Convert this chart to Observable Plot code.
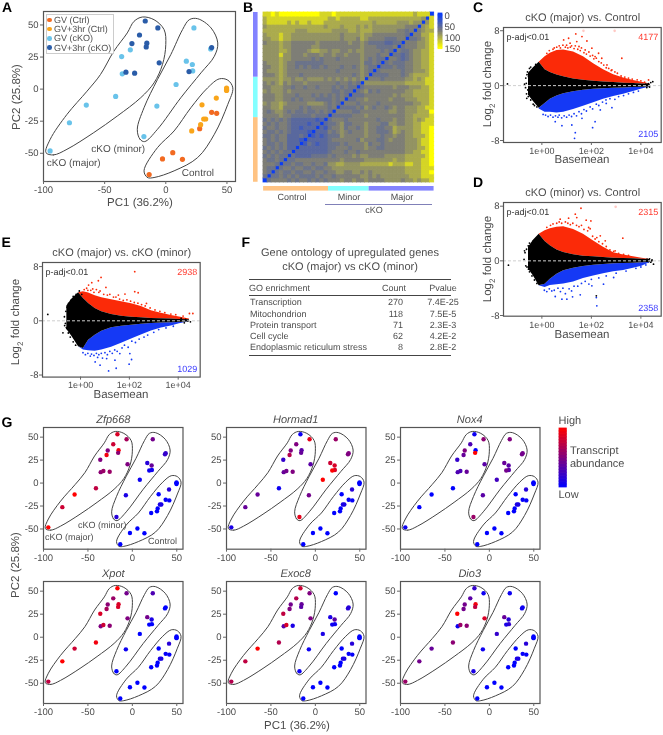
<!DOCTYPE html>
<html><head><meta charset="utf-8">
<script src="https://cdn.jsdelivr.net/npm/d3@7"></script>
<script src="https://cdn.jsdelivr.net/npm/@observablehq/plot@0.6"></script>
<style>
html,body{margin:0;padding:0;background:#fff}
#page{position:relative;width:663px;height:735px;overflow:hidden;font-family:"Liberation Sans",Arial,sans-serif;color:#4d4d4d;text-rendering:geometricPrecision;filter:blur(0.3px)}
#page svg{background:transparent;overflow:visible;text-rendering:geometricPrecision}
.t{position:absolute;white-space:nowrap;line-height:1}
sub{font-size:70%;line-height:0}
</style></head><body><div id="page"></div>
<script>
// ---------- PCA samples (panel A and G) ----------
const pc1=[-13.6,-2.7,5.7,13.6,27.7,37.5,41.6, 21.2,28.5,31,32.6,29.6,41.3,49.7,49.7,49.7,
 -94.6,-78.8,-65,-41,-35.6,-36.1,-29,23,16.8,21.7,22,8.4,-7.3,-17.9,36.7,
 -16.8,-6.5,-21.5,-27.7,-15.5,-16,-5.4,-32.6,-25.5,19,37.5];
const pc2=[-66.6,-54.4,-49.5,-54.7,-30.8,-18.1,-18.9, -32.6,-27.7,-23.3,-23.3,-12.2,-7,-1,0.8,-0.3,
 -48.2,-26.2,-12.4,-5.7,11.9,25.4,30.6,47.7,21.8,19.2,14.2,3.6,-13.2,-37,31.3,
 53.1,47.7,42.2,35.5,35.8,32.9,20.5,13.2,12.4,13.7,32.4];
const sampleGroupNames=["GV (Ctrl)","GV+3hr (Ctrl)","GV (cKO)","GV+3hr (cKO)"];
const sampleGroupSizes=[7,9,15,11];
const sampleGroupColors=["#f26a21","#f9a51a","#69c3ea","#2a5ca8"];
const ctrlLevels=[0,0,0,0,0,.02,.02, 0,0,.1,.1,0,.15,0,0,0];
const geneNames=["Zfp668","Hormad1","Nox4","Xpot","Exoc8","Dio3"];
const exprZfp668=[1,.8,1,.75,.55,.5,.95,.45,.15,.4,.05,.05,.1,.15,.2, .85,.65,.8,.5,.95,.55,.5,.6,.6,.05,.2];
const exprHormad1=[.1,.4,.4,.05,.4,.2,.7,.6,.8,.85,.85,1,.45,.9,.5, .05,.9,.5,.5,.35,.4,.35,.45,.5,1,.5];
const exprNox4=[.05,0,0,0,.3,.2,.4,.5,.4,.35,.35,.25,.35,.6,.45, .05,.55,.3,.5,0,1,.35,.3,.4,.45,.45];
const exprXpot=[.75,1,.8,.95,.5,.85,.65,.3,.45,.1,0,0,.05,0,0, 1,.45,.6,.55,.85,.85,.5,.8,.55,0,0];
const exprExoc8=[.7,.75,1,.7,.35,.75,.5,0,.1,.35,.05,.1,.05,.05,.15, .8,.5,.7,.45,.4,.35,.5,.85,.1,.05,.15];
const exprDio3=[.6,.45,.4,.55,.05,1,.45,.05,.4,.15,.2,.2,.05,.1,.05, .2,.05,.35,.45,.95,.75,.85,.6,.55,.1,.05];
const geneExpr=[exprZfp668,exprHormad1,exprNox4,exprXpot,exprExoc8,exprDio3];
// hull outlines
const hullMajor=[[-98,-49.5],[-91.8,-51.3],[-80.8,-46.9],[-58.9,-33.9],[-39.7,-21],[-20.5,-6.7],[-9.6,4.9],[-2.7,19.2],[0,34.7],[-1.4,46.4],[-9.6,54.1],[-19.2,56.2],[-26,52.8],[-31.5,43.8],[-42.5,29.5],[-53.4,11.4],[-64.4,-1.6],[-80.8,-19.7],[-94.5,-39.1]];
const hullMinor=[[-23.3,-31.3],[-21.1,-39.1],[-17.3,-40.9],[-6.8,-31.3],[12.3,-6.7],[28.8,12.7],[39.7,25.6],[42.5,36],[37,47.7],[26,54.9],[19.2,54.1],[13.7,46.4],[4.1,26.9],[-6.8,7.5],[-17.8,-14.5]];
const hullControl=[[-17.8,-63.7],[-15,-68.9],[-9.6,-68.9],[6.8,-63.7],[26,-53.4],[39.7,-35.2],[50.7,-11.9],[54.8,1],[50.7,7],[43.8,8],[34.2,1],[20.5,-14.5],[6.8,-32.6],[-6.8,-45.6]];
const hullLabels=["cKO (minor)","cKO (major)","Control"];
const hullLabelX=[-38.9,-75.3,26.3];
const hullLabelY=[-46.6,-57.8,-65];
const hullLabelXG=[-34,-71,34];
const hullLabelYG=[-46,-58.7,-63];

// ---------- Panel B distance matrix (lower triangle, levels 0-9, one row per sample) ----------
const distRows=["","4","54","544","5554","54454","454544","5454544","45454533","544545333","5454553332","44545533343","544545433332","4554554332333","54545543333233","454545433333323",
"5555 6554 4444 5444","5456 6545 4454 4545 4","5566 7555 5454 5555 45","6566 7655 5556 6665 454","5556 6554 5455 5444 4545","5556 6555 4555 4545 45454","6566 6565 5555 5555 544544","5566 6554 5545 5455 5454544","5656 7565 5565 5555 55455454","6666 7665 6656 6665 656565656",
"5556 7655 5455 5555 5555 5545 65","5666 7655 5555 5555 5545 5555 654","5566 7655 4545 4454 5554 5545 6544","5666 7655 4444 4445 5555 5555 6445 4","6666 7665 5555 4545 5545 5555 6545 44","6666 8665 5565 5565 5655 6555 6555 455","6666 7765 5556 7766 5665 5656 6555 5454","6666 7665 5555 6655 5555 5555 6555 4444 5","5666 7665 5555 5655 5555 5655 6544 4433 44","6677 8776 6666 6666 6665 6665 7655 5544 455","6777 8776 6666 6666 6665 6666 7665 5555 5554","7777 7777 6667 7777 7666 6776 7776 6666 6554 5","6777 7777 7777 7776 7776 7776 7676 6666 6665 55","7888 8878 7887 8887 7777 7777 7776 7777 7666 766","7888 8888 8888 8888 7787 7777 8877 7777 7777 7776","8898 9999 9999 9988 8988 8888 8888 8888 8888 8788 8"];
const levelValues=[0,18,36,52,64,76,88,102,126,150];
const groupNames=["Control","Minor","Major"];
const groupSizes=[16,10,16];
const groupColors=["#ffc383","#83ffff","#8383ff"];
const heatTicks=[0,50,100,150];
const heatBins=[-9,-3,3,9,15,21,27,33,39,45,51,57,63,69,75,81,87,93,99,105,111,117,123,129,135,141,147,153];

// ---------- MA plots: envelopes of the dense clouds, scattered points read individually ----------
const cLx=[-.54,-.34,-.11,.13,.34,.61,.88,1.28,1.68,2.09,2.49,2.9,3.3,3.7,4.04,4.38];
const cBlackTop=[1.8,2.6,3.4,2.3,1.9,1.55,1.3,.97,.78,.63,.53,.44,.34,.29,.24,.2];
const cBlackBottom=[-1.4,-2.3,-3.3,-2.6,-2,-1.5,-1.2,-.88,-.68,-.53,-.44,-.39,-.34,-.29,-.24,-.2];
const cRedTop=[3.4,4.2,4.7,5.1,5.2,4.9,4.2,3.2,2.3,1.6,1.1,.75,.5,.22];
const cBlueBottom=[-3.4,-3.9,-3.9,-4,-3.9,-3.5,-3,-2.5,-2,-1.6,-1.25,-.85,-.5,-.2];
const cRedDots=[[1.37,7.54],[1.08,6.9],[1.82,6.5],[1.62,7.15],[.88,6.66],[2.29,4.72],[2.42,3.99],[2.63,3.02],[3.23,3.99],[4.31,.83],[1.41,6.42],[2.02,5.45],[1.14,6.18],[2.15,4.23],[2.83,2.29],
 [.2,4.7],[.3,5.1],[.45,5.3],[.5,5.5],[.6,5.6],[.7,5.8],[.75,5.5],[.85,5.9],[.95,5.6],[1,5.9],[1.05,5.5],[1.15,5.6],[1.2,5.8],[1.3,5.4],[1.35,5.8],[1.45,5.3],[1.5,5.7],[1.55,5.1],[1.6,5.5],[1.7,4.8],[1.75,5.2],[1.8,4.6],[1.9,4.9],[1.95,4.3],[2.05,4.4],[2.1,3.9],[2.2,4],[2.3,3.5],[2.4,3.3],[2.5,3],[2.6,2.6],[2.7,2.5],[2.8,2.2],[2.95,2],[3.05,1.8],[3.2,1.4],[3.35,1.25],[3.5,1.1],[3.65,.95],[3.85,.85],[4,.7],[4.15,.5]];
const cBlueDots=[[1.32,-7.68],[1.35,-6.86],[2.05,-6.13],[.81,-5.84],[.54,-5.25],[1.21,-5.74],[2.15,-5.25],[2.59,-2.09],[1.62,-4.77],[2.36,-3.55],[2.83,-3.21],
 [.05,-4.2],[.15,-4.3],[.25,-4.5],[.35,-4.3],[.45,-4.6],[.55,-4.4],[.65,-4.6],[.7,-4.3],[.8,-4.7],[.9,-4.4],[1,-4.6],[1.1,-4.3],[1.2,-4.5],[1.3,-4.1],[1.4,-4.4],[1.5,-3.8],[1.6,-4.1],[1.7,-3.5],[1.8,-3.7],[1.95,-3.1],[2.05,-3.4],[2.2,-2.7],[2.3,-2.9],[2.45,-2.4],[2.6,-2.6],[2.75,-1.9],[2.95,-2],[3.1,-1.6],[3.3,-1.45],[3.5,-1.2],[3.7,-1],[3.9,-.8]];
const cBlackDots=[[-1.39,.24],[-.61,-1.85],[-.63,.34],[-.54,1.31],[-.57,-.63],[-.47,1.8],[-.4,-1.6],[4.4,.44],[4.48,.58],[4.24,-.29],
 [-.65,1.1],[-.6,1.6],[-.58,2],[-.66,-.3],[-.7,.2],[-.62,-1.2],[-.5,2.5],[-.45,2.7],[-.55,-1.6],[-.45,-2.1],[-.35,-2.7],[-.3,-2.9],[-.25,3.1],[-.2,-3.1],[4.2,.2],[4.3,.3],[4.35,-.2]];
const cPaleDots=[[1.68,7.98],[2.94,7.98]];
const dLx=[-.54,-.34,-.11,.13,.34,.61,.88,1.28,1.68,2.09,2.49,2.9,3.3,3.7,4.04,4.38];
const dBlackTop=[2,3,3.9,2.83,2.2,1.6,1.22,.88,.68,.59,.49,.39,.34,.29,.24,.2];
const dBlackBottom=[-1.2,-2.2,-3.66,-3.41,-2.68,-1.95,-1.46,-1.07,-.83,-.63,-.54,-.44,-.39,-.34,-.29,-.24];
const dRedTop=[3.9,4.4,4.7,4.9,5,4.6,3.9,2.9,2,1.2,.85,.59,.39,.2];
const dBlueBottom=[-3.66,-3.9,-3.6,-3.5,-3.4,-3.1,-2.6,-2.2,-1.9,-1.6,-1.4,-1.1,-.8,-.24];
const dRedDots=[[1.58,7.7],[1.35,6.83],[1.41,6.34],[1.79,5.95],[.74,6.1],[1.08,6.24],[1.89,4.88],[2.36,3.66],[2.56,2.93],[3.27,3.32],[2.96,1.46],[1.98,5.85],[2.22,3.41],
 [.2,4.9],[.35,5.2],[.45,5.4],[.6,5.5],[.7,5.7],[.8,5.5],[.95,5.7],[1.05,5.5],[1.15,5.3],[1.25,5.5],[1.4,5.2],[1.5,5],[1.6,5.2],[1.7,4.6],[1.85,4.4],[1.95,4.7],[2.05,3.6],[2.15,3.2],[2.3,2.8],[2.45,2.5],[2.6,2.1],[2.75,1.6],[2.9,1.4],[3.1,1.1],[3.3,.95],[3.5,.8]];
const dBlueDots=[[2.22,-6.59],[2.2,-5.37],[1.01,-5.61],[.54,-5.22],[1.24,-5.27],[2.02,-3.66],[2.49,-3.41],[2.9,-2.44],[1.55,-4.98],[.81,-5.61],
 [.1,-4.3],[.2,-4.5],[.3,-4.1],[.4,-4.4],[.5,-4.3],[.65,-4],[.75,-4.5],[.85,-4],[.95,-4.8],[1.1,-4.1],[1.2,-4.4],[1.3,-3.7],[1.45,-3.7],[1.6,-3.3],[1.75,-3],[1.9,-3.4],[2,-2.7],[2.3,-2.5],[2.6,-2.2],[3,-1.8],[3.4,-1.5],[3.8,-1.1],[4,-.9],[4.2,-.6]];
const dBlackDots=[[-1.35,-.63],[-.7,1.46],[-.65,-.73],[-.54,-1.22],[2.2,-5.12],[4.44,0],[4.51,-.49],[4.31,-.1],
 [-.68,1.2],[-.62,1.7],[-.55,2.2],[-.5,2.6],[-.72,.2],[-.6,-.9],[-.5,-1.6],[-.4,-2.2],[-.3,-2.8],[-.2,-3.3],[-.1,3.4],[-.35,2.9],[4.25,.25],[4.35,.3],[4.4,-.2],[4.45,.15]];
const dPaleDots=[[2.98,7.9]];
const eLx=[-.56,-.35,-.08,.12,.33,.6,.87,1.27,1.68,2.09,2.49,2.9,3.31,3.72,4.05,4.46];
const eBlackTop=[2.2,3.2,4.14,3.3,2.56,1.82,1.33,.94,.69,.54,.44,.34,.3,.25,.2,.15];
const eBlackBottom=[-1.3,-2.3,-3.84,-4.1,-2.86,-2.12,-1.53,-1.03,-.79,-.64,-.49,-.39,-.34,-.3,-.25,-.15];
const eRedTop=[4.14,4.3,4.1,3.7,3.4,3.1,2.8,2.5,2.1,1.5,1.1,.8,.55,.25];
const eBlueBottom=[-3.84,-4.3,-4.4,-4.5,-4.3,-3.9,-3.3,-2.7,-2.1,-1.5,-1.05,-.75,-.45,-.15];
const eRedDots=[[2.22,7.24],[.84,6.4],[.73,5.91],[.46,5.62],[1.04,4.93],[1.55,3.79],[2.22,4.29],[2.36,4.14],[.33,5.27],[1.82,3.94],[4.46,1.08],[4.6,1.08],[2.7,2.56],
 [.15,4.6],[.25,4.8],[.3,4.5],[.42,4.5],[.5,4.7],[.55,4.2],[.65,4.6],[.75,4.2],[.8,4.4],[.95,3.9],[1.1,3.8],[1.2,3.9],[1.35,3.5],[1.45,3.5],[1.6,3.2],[1.75,3],[1.9,3.1],[2.05,2.9],[2.2,2.7],[2.35,2.6],[2.5,2.4],[2.65,2.2],[2.85,1.9],[3.05,1.6],[3.25,1.4],[3.45,1.2],[3.7,1],[3.9,.9],[4.2,.7]];
const eBlueDots=[[1.15,-7.39],[1.46,-7],[1.99,-6.4],[.8,-6.55],[1.41,-5.81],[2.09,-5.71],[.6,-6.06],[1.61,-4.83],[2.02,-4.83],[1.07,-5.57],
 [.1,-4.7],[.2,-5],[.3,-4.8],[.4,-5.2],[.45,-4.9],[.55,-5.1],[.65,-4.8],[.7,-5.4],[.75,-5],[.85,-4.8],[.9,-5.5],[1,-4.7],[1.1,-5],[1.2,-4.5],[1.3,-4.8],[1.4,-4.3],[1.5,-4.5],[1.7,-4],[1.8,-3.6],[1.95,-3.9],[2.1,-3],[2.25,-3.2],[2.4,-2.7],[2.6,-2.4],[2.75,-2.1],[3,-1.7],[3.2,-1.3],[3.5,-1.05],[3.8,-.8]];
const eBlackDots=[[-1.34,.94],[-.72,-1.77],[-.56,-1.13],[-.49,2.56],[-.45,1.58],[-.62,-.39],[4.39,-.05],[4.12,.34],
 [-.66,.6],[-.6,1.4],[-.55,2],[-.65,-.7],[-.58,-1],[-.5,-1.8],[-.42,-2.4],[-.3,-3.1],[-.2,-3.6],[-.4,3],[-.3,3.6],[-.18,3.9],[-.05,4.4],[.05,3.9],[4.3,.2],[4.5,-.15],[4.25,-.3]];

// ---------- Panel F table ----------
const goTerms=["Transcription","Mitochondrion","Protein transport","Cell cycle","Endoplasmic reticulum stress"];
const goCounts=[270,118,71,62,8];
const goPvalues=["7.4E-25","7.5E-5","2.3E-3","4.2E-2","2.8E-2"];

// ---------- helpers ----------
const page=document.getElementById("page");
const FONT='"Liberation Sans",Arial,sans-serif';
const GREY="#4d4d4d";
function put(node,l,t){node.style.position="absolute";node.style.left=l+"px";node.style.top=t+"px";page.append(node);}
function text(html,x,y,o={}){
  const d=document.createElement("div");d.className="t";d.innerHTML=html;
  const ax=o.anchor==="start"?"0":o.anchor==="end"?"-100%":"-50%";
  d.style.left=x+"px";d.style.top=y+"px";
  d.style.transform=`translate(${ax},-50%)`+(o.rotate?` rotate(${o.rotate}deg)`:"");
  d.style.fontSize=(o.size||11)+"px";
  if(o.color)d.style.color=o.color; if(o.bold)d.style.fontWeight="bold"; if(o.italic)d.style.fontStyle="italic";
  page.append(d);return d;
}
const baseStyle=(size)=>({fontFamily:FONT,fontSize:size+"px",color:GREY,background:"transparent"});
const samples=pc1.map((x,i)=>({x,y:pc2[i]}));
const sampleGroup=sampleGroupSizes.flatMap((n,g)=>Array(n).fill(sampleGroupNames[g]));
samples.forEach((s,i)=>s.group=sampleGroup[i]);
const hullRows=[hullMajor,hullMinor,hullControl];

function pca({left,top,w,h,color,fillKey,r,labelSize,lx,ly}){
  const mL=40,mT=4,mB=20,mR=6;
  const marks=[
    Plot.frame({stroke:"#555",strokeWidth:1.2}),
    Plot.axisX({ticks:[-100,-50,0,50],tickSize:3,tickPadding:2,label:null,tickFormat:d=>String(d),stroke:"#666"}),
    Plot.axisY({ticks:[-50,-25,0,25,50],tickSize:3,tickPadding:2,label:null,tickFormat:d=>String(d),stroke:"#666"}),
    ...hullRows.map(h=>Plot.line(h,{x:d=>d[0],y:d=>d[1],curve:"catmull-rom-closed",stroke:"#444",strokeWidth:1})),
    Plot.dot(samples,{x:"x",y:"y",r,fill:fillKey,stroke:null})
  ];
  if(lx) marks.push(Plot.text(hullLabels,{x:(d,i)=>lx[i],y:(d,i)=>ly[i],fontSize:labelSize,fill:GREY}));
  const p=Plot.plot({width:w+mL+mR,height:h+mT+mB,marginLeft:mL,marginRight:mR,marginTop:mT,marginBottom:mB,
    style:baseStyle(9.5),
    x:{domain:[-100,57],axis:null},y:{domain:[-72,60.5],axis:null},color,marks});
  put(p,left-mL,top-mT);
}

function ma({left,top,w,h,xd,yd,lx,bt,bb,rt,bl,rd,bd,kd,pd,nUp,nDown}){
  const mL=20,mT=2,mB=16,mR=2;
  const full=lx.map((v,i)=>({x:10**v,t:bt[i],b:bb[i]}));
  const part=full.slice(2);
  const dots=(arr,fill,r)=>Plot.dot(arr,{x:d=>10**d[0],y:d=>d[1],r,fill,stroke:null});
  const p=Plot.plot({width:w+mL+mR,height:h+mT+mB,marginLeft:mL,marginRight:mR,marginTop:mT,marginBottom:mB,
    style:baseStyle(9.5),
    x:{type:"log",domain:[10**xd[0],10**xd[1]],axis:null},y:{domain:yd,axis:null},
    marks:[
      Plot.areaY(part,{x:"x",y1:"t",y2:(d,i)=>rt[i],fill:"#fb2a08"}),
      Plot.areaY(part,{x:"x",y1:"b",y2:(d,i)=>bl[i],fill:"#1539f5"}),
      dots(rd,"#fb2a08",.9),dots(bd,"#1539f5",.9),
      Plot.areaY(full,{x:"x",y1:"b",y2:"t",fill:"#000"}),
      dots(kd,"#000",.9),dots(pd||[],"#ffc9c4",1.3),
      Plot.ruleY([0],{stroke:"#cfcfcf",strokeDasharray:"3,2",strokeWidth:1}),
      Plot.frame({stroke:"#555",strokeWidth:1.2}),
      Plot.axisX({ticks:[1,100,10000],tickSize:3,tickPadding:2,label:null,fontSize:9,stroke:"#666",
        tickFormat:d=>"1e+0"+Math.round(Math.log10(d))}),
      Plot.axisY({ticks:[-8,0,8],tickSize:3,tickPadding:1,label:null,stroke:"#666",tickFormat:d=>String(d)}),
      Plot.text(["p-adj<0.01"],{frameAnchor:"top-left",dx:3,dy:6,fontSize:9,fill:"#333"}),
      Plot.text([nUp],{frameAnchor:"top-right",dx:-3,dy:6,fontSize:9,fill:"#ff3b30"}),
      Plot.text([nDown],{frameAnchor:"bottom-right",dx:-3,dy:-5,fontSize:9,fill:"#3a3aff"})
    ]});
  put(p,left-mL,top-mT);
}

// ---------- Panel A ----------
pca({left:43.3,top:11,w:192,h:170,r:2.6,labelSize:10,lx:hullLabelX,ly:hullLabelY,fillKey:"group",
  color:{domain:sampleGroupNames,range:sampleGroupColors}});
text("PC1 (36.2%)",140,203.5,{size:11.5});
text("PC2 (25.8%)",18,97,{size:11.5,rotate:-90});
const lg=document.createElement("div");
lg.style.cssText="position:absolute;left:45.7px;top:14px;width:66px;height:38px;border:1px solid #ccc;background:#fff;";
page.append(lg);
sampleGroupNames.forEach((n,i)=>{
  const y=20+i*9.2;
  const s=document.createElement("div");
  s.style.cssText=`position:absolute;left:47px;top:${y-2.3}px;width:4.6px;height:4.6px;border-radius:50%;background:${sampleGroupColors[i]}`;
  page.append(s);
  text(n,54,y,{anchor:"start",size:9});
});

// ---------- Panel B ----------
const heatCells=[];
distRows.forEach((row,i)=>{const digits=row.replace(/ /g,"");
  heatCells.push({a:i,b:i,v:0});
  [...digits].forEach((c,j)=>{const v=levelValues[+c];heatCells.push({a:i,b:j,v},{a:j,b:i,v});});
});
const heatColor={type:"linear",domain:[0,75,150],range:["#0a3cf5","#7c7c78","#ffff00"],clamp:true};
const idx=d3.range(distRows.length);
put(Plot.plot({width:170.7,height:170,margin:0,x:{domain:idx,axis:null,padding:0,round:false},y:{domain:idx.slice().reverse(),axis:null,padding:0,round:false},color:heatColor,
  marks:[Plot.cell(heatCells,{x:"a",y:"b",fill:"v",stroke:"v",strokeWidth:.8})]}),263.3,11.7);
const groupRows=(()=>{let c=0;return groupSizes.map((n,i)=>{const r={a:c,b:c+n,fill:groupColors[i],name:groupNames[i]};c+=n;return r;});})();
put(Plot.plot({width:170.7,height:4.6,margin:0,x:{domain:[0,idx.length],axis:null},
  marks:[Plot.barX(groupRows,{x1:"a",x2:"b",fill:"fill"})]}),263.3,186);
put(Plot.plot({width:4.6,height:170,margin:0,y:{domain:[0,idx.length],axis:null},
  marks:[Plot.barY(groupRows,{y1:"a",y2:"b",fill:"fill"})]}),252.7,11.7);
text("Control",292,197,{size:9});
text("Minor",349,197,{size:9});
text("Major",402,197,{size:9});
text("cKO",374,210,{size:9});
const ckoLine=document.createElement("div");
ckoLine.style.cssText="position:absolute;left:325px;top:204px;width:107px;height:1px;background:#8080b8";
page.append(ckoLine);
put(Plot.plot({width:30,height:41,marginLeft:0,marginRight:26,marginTop:2,marginBottom:2,style:baseStyle(9.5),
  x:{axis:null},y:{domain:[159,-9],axis:null},color:heatColor,
  marks:[
    Plot.rect(heatBins.slice(0,-1),{y1:d=>d,y2:(d,i)=>heatBins[i+1],fill:d=>d+3,stroke:d=>d+3,strokeWidth:.8}),
    Plot.axisY({anchor:"right",ticks:heatTicks,tickSize:0,tickPadding:2,label:null})
  ]}),438,11);

// ---------- Panels C, D, E ----------
ma({left:503.3,top:26.7,w:157.7,h:115,xd:[-1.55,4.82],yd:[-8.29,8.47],lx:cLx,bt:cBlackTop,bb:cBlackBottom,rt:cRedTop,bl:cBlueBottom,rd:cRedDots,bd:cBlueDots,kd:cBlackDots,pd:cPaleDots,nUp:"4177",nDown:"2105"});
text("cKO (major) vs. Control",582.7,17.7,{size:11});
text("Basemean",582,161,{size:11.5});
text("Log<sub>2</sub> fold change",489,84,{size:11.5,rotate:-90});

ma({left:503.3,top:202.3,w:157.7,h:113.7,xd:[-1.55,4.82],yd:[-8.1,8.54],lx:dLx,bt:dBlackTop,bb:dBlackBottom,rt:dRedTop,bl:dBlueBottom,rd:dRedDots,bd:dBlueDots,kd:dBlackDots,pd:dPaleDots,nUp:"2315",nDown:"2358"});
text("cKO (minor) vs. Control",582.7,192.7,{size:11});
text("Basemean",582,336,{size:11.5});
text("Log<sub>2</sub> fold change",489,259,{size:11.5,rotate:-90});

ma({left:42.3,top:261.7,w:157.7,h:114.6,xd:[-1.557,4.9],yd:[-8.3,8.6],lx:eLx,bt:eBlackTop,bb:eBlackBottom,rt:eRedTop,bl:eBlueBottom,rd:eRedDots,bd:eBlueDots,kd:eBlackDots,nUp:"2938",nDown:"1029"});
text("cKO (major) vs. cKO (minor)",121.7,252.7,{size:11});
text("Basemean",121,396,{size:11.5});
text("Log<sub>2</sub> fold change",17.3,321.7,{size:11.5,rotate:-90});

// ---------- Panel F ----------
text("Gene ontology of upregulated genes",350,253,{size:11});
text("cKO (major) vs cKO (minor)",350,267,{size:11});
[[279,1],[294.7,1],[355,1]].forEach(([y,hh])=>{const l=document.createElement("div");
  l.style.cssText=`position:absolute;left:249px;width:202px;top:${y}px;height:${hh}px;background:#444`;page.append(l);});
text("GO enrichment",249,287.7,{anchor:"start",size:9});
text("Count",406,287.7,{anchor:"end",size:9});
text("Pvalue",443,287.7,{anchor:"middle",size:9});
const goY=[302,313.7,324.7,335.7,347.3];
goTerms.forEach((t,i)=>{
  text(t,250,goY[i],{anchor:"start",size:9});
  text(String(goCounts[i]),403,goY[i],{anchor:"end",size:9});
  text(goPvalues[i],443,goY[i],{anchor:"middle",size:9});
});

// ---------- Panel G ----------
const geneColor={type:"linear",domain:[0,1],range:["#0000ff","#ff0000"]};
const colLeft=[43.3,225.7,399.7],rowTop=[427.3,581];
geneNames.forEach((g,i)=>{
  const col=i%3,row=Math.floor(i/3);
  const levels=[...ctrlLevels,...geneExpr[i]];
  pca({left:colLeft[col],top:rowTop[row],w:139.5,h:row?122:121.7,r:2.2,labelSize:9,
    lx:i===0?hullLabelXG:null,ly:hullLabelYG,fillKey:(d,k)=>levels[k],color:geneColor});
  text(g,colLeft[col]+70,rowTop[row]-7.5,{size:11,italic:true});
});
text("PC2 (25.8%)",17,565,{size:11.5,rotate:-90});
text("PC1 (36.2%)",297,727,{size:11.5});
put(Plot.plot({width:7.3,height:59,margin:0,x:{axis:null},y:{domain:[0,1],axis:null},color:geneColor,
  marks:[Plot.rect(d3.range(0,1,0.05),{y1:d=>d,y2:d=>d+0.05,fill:d=>d+0.025,stroke:d=>d+0.025,strokeWidth:.8})]}),558.7,428.3);
text("High",558.5,421,{anchor:"start",size:11});
text("Low",558.5,495,{anchor:"start",size:11});
text("Transcript",570,450.5,{anchor:"start",size:11});
text("abundance",570,464,{anchor:"start",size:11});

// ---------- panel letters ----------
[["A",2,7],["B",243,7],["C",473,7],["D",473,182],["E",1.5,241.7],["F",241.5,241.7],["G",1.5,421.7]]
 .forEach(([s,x,y])=>text(s,x,y,{anchor:"start",size:14,bold:true,color:"#000"}));
</script></body></html>
